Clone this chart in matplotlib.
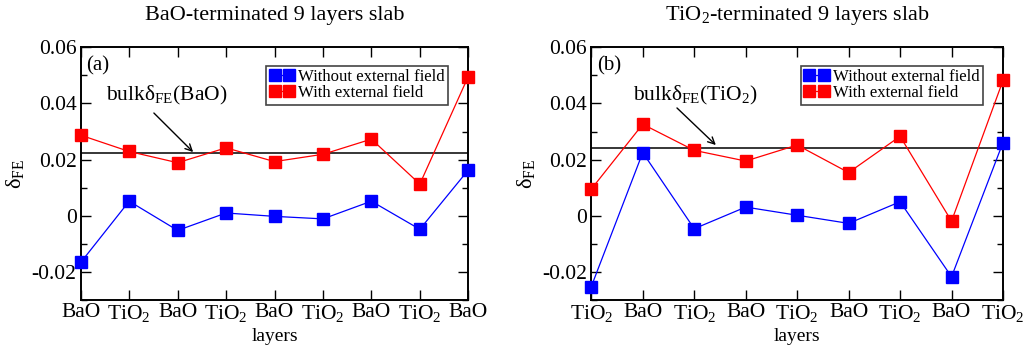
import matplotlib
matplotlib.use("Agg")
import matplotlib.pyplot as plt
from matplotlib.ticker import MultipleLocator

plt.rcParams['font.family'] = ['Liberation Serif', 'DejaVu Serif']
plt.rcParams['mathtext.fontset'] = 'custom'
plt.rcParams['mathtext.rm'] = 'Liberation Serif'
plt.rcParams['mathtext.it'] = 'Liberation Serif'
plt.rcParams['mathtext.bf'] = 'Liberation Serif:bold'

TIO2 = r'TiO$_2$'
BAO = 'BaO'

# Panel (a): BaO-terminated slab
layers_a = [BAO, TIO2, BAO, TIO2, BAO, TIO2, BAO, TIO2, BAO]
without_a = [-0.0166, 0.0052, -0.0052, 0.0010, -0.0002, -0.0011, 0.0052, -0.0048, 0.0163]
with_a = [0.0287, 0.0229, 0.0189, 0.0242, 0.0193, 0.0219, 0.0273, 0.0113, 0.0496]
bulk_a = 0.0222

# Panel (b): TiO2-terminated slab
layers_b = [TIO2, BAO, TIO2, BAO, TIO2, BAO, TIO2, BAO, TIO2]
without_b = [-0.0252, 0.0225, -0.0046, 0.0031, 0.0002, -0.0027, 0.0050, -0.0217, 0.0261]
with_b = [0.0095, 0.0326, 0.0233, 0.0195, 0.0252, 0.0154, 0.0283, -0.0019, 0.0482]
bulk_b = 0.0242

fig = plt.figure(figsize=(10.26, 3.53), dpi=100)
ax_a = fig.add_axes([0.0787, 0.150, 0.3777, 0.716])
ax_b = fig.add_axes([0.5763, 0.150, 0.4013, 0.716])


def fmt_tick(v):
    if abs(v) < 1e-9:
        return '0'
    return f'{v:.2f}'


def draw_panel(ax, layers, without, with_f, bulk, tag, title, bulk_label,
               text_xy, arrow_tail, arrow_head, legend_right):
    x = list(range(len(layers)))
    ax.plot(x, without, color='#0000ff', lw=0.9, marker='s', ms=8.5,
            mec='#0000ff', mfc='#0000ff', label='Without external field',
            clip_on=False, zorder=3)
    ax.plot(x, with_f, color='#ff0000', lw=0.9, marker='s', ms=8.5,
            mec='#ff0000', mfc='#ff0000', label='With external field',
            clip_on=False, zorder=3)
    ax.axhline(bulk, color='black', lw=1.1, zorder=2)

    ax.set_xlim(0, len(layers) - 1)
    ax.set_ylim(-0.03, 0.06)
    ax.set_xticks(x)
    ax.set_xticklabels(layers)
    ax.yaxis.set_minor_locator(MultipleLocator(0.01))
    ticks = [-0.02, 0.0, 0.02, 0.04, 0.06]
    ax.set_yticks(ticks)
    ax.set_yticklabels([fmt_tick(v) for v in ticks])
    ax.tick_params(which='both', direction='in', top=True, right=True,
                   labelsize=15.5, width=1.0)
    ax.tick_params(axis='x', pad=2)
    ax.tick_params(axis='y', pad=3)
    ax.tick_params(which='major', length=7)
    ax.tick_params(which='minor', length=4)
    for s in ax.spines.values():
        s.set_linewidth(1.4)

    ax.set_xlabel('layers', fontsize=14, labelpad=3)
    ax.set_ylabel(r'δ$_{\mathrm{FE}}$', fontsize=16, labelpad=4)
    ax.set_title(title, fontsize=16, pad=20)

    ax.text(0.014, 0.965, tag, transform=ax.transAxes, fontsize=15,
            ha='left', va='top')

    ax.text(text_xy[0], text_xy[1], bulk_label, fontsize=15.5,
            ha='left', va='baseline')
    ax.annotate('', xy=arrow_head, xytext=arrow_tail,
                arrowprops=dict(arrowstyle='->', color='black', lw=1.0,
                                shrinkA=0, shrinkB=0, mutation_scale=12))

    leg = ax.legend(loc='upper right', bbox_to_anchor=(legend_right, 0.926),
                    fontsize=12.1, numpoints=2, handlelength=1.45,
                    handletextpad=0.25, borderpad=0.2, labelspacing=0.0,
                    frameon=True, fancybox=False, borderaxespad=0,
                    framealpha=1)
    frame = leg.get_frame()
    frame.set_edgecolor('#444444')
    frame.set_linewidth(1.2)


draw_panel(ax_a, layers_a, without_a, with_a, bulk_a, '(a)',
           'BaO-terminated 9 layers slab',
           r'bulkδ$_{\mathrm{FE}}$(BaO)',
           (0.52, 0.0412), (1.51, 0.0366), (2.32, 0.0227), 0.948)
draw_panel(ax_b, layers_b, without_b, with_b, bulk_b, '(b)',
           r'TiO$_2$-terminated 9 layers slab',
           r'bulkδ$_{\mathrm{FE}}$(TiO$_2$)',
           (0.82, 0.0412), (1.665, 0.0384), (2.42, 0.0252), 0.951)

fig.savefig('out.png', dpi=100)
